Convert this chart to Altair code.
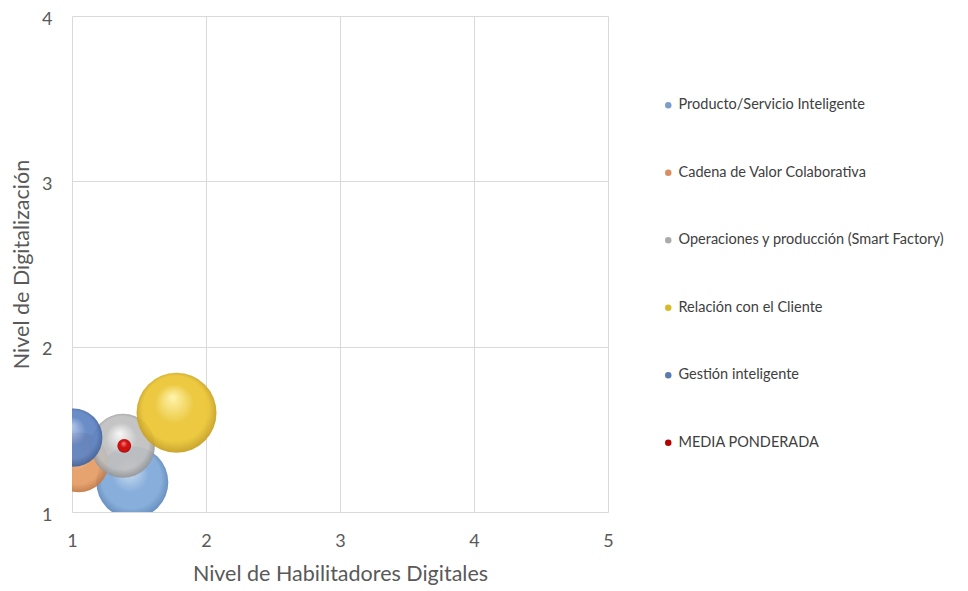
import altair as alt
import pandas as pd

series = ["Producto/Servicio Inteligente", "Cadena de Valor Colaborativa",
          "Operaciones y producción (Smart Factory)", "Relación con el Cliente",
          "Gestión inteligente", "MEDIA PONDERADA"]
x_vals = [1.45, 1.05, 1.38, 1.78, 1.01, 1.39]
y_vals = [1.18, 1.30, 1.40, 1.60, 1.45, 1.40]
size_vals = [81, 56, 64, 100, 53, 3]

legend_colors = ["#7c9fc9", "#d98e62", "#ababab", "#d6bc2c", "#5a7ab3", "#b50000"]
grad_light = ["#d2e2f4", "#fbd6b8", "#f7f7f7", "#fff4a8", "#b4c8ec", "#ff8080"]
grad_base = ["#7ea8d8", "#e49a62", "#bfbfbf", "#eac430", "#5d82c2", "#d00000"]
grad_dark = ["#4d79ad", "#b46a36", "#858585", "#b68f18", "#34558d", "#7a0000"]

df = pd.DataFrame({"serie": series, "x": x_vals, "y": y_vals, "size": size_vals})

FONT = "Lato"
xs = alt.Scale(domain=[1, 5], nice=False, zero=False)
ys = alt.Scale(domain=[1, 4], nice=False, zero=False)
ss = alt.Scale(type="linear", domain=[0, 100], range=[0, 6400], zero=True)

base = alt.Chart(df)

legend_layer = base.mark_circle(opacity=0, clip=True).encode(
    x=alt.X("x:Q", scale=xs, title="Nivel de Habilitadores Digitales",
            axis=alt.Axis(values=[1, 2, 3, 4, 5], format="d")),
    y=alt.Y("y:Q", scale=ys, title="Nivel de Digitalización",
            axis=alt.Axis(values=[1, 2, 3, 4], format="d")),
    size=alt.Size("size:Q", scale=ss, legend=None),
    color=alt.Color("serie:N", scale=alt.Scale(domain=series, range=legend_colors),
                    legend=alt.Legend(title=None, orient="none", legendX=589, legendY=82,
                                      symbolType="circle", symbolSize=42, symbolOpacity=1,
                                      symbolStrokeWidth=0,
                                      labelFont=FONT, labelFontSize=14.5, labelColor="#404040",
                                      rowPadding=52.5, labelOffset=3, labelLimit=400)),
)

layers = [legend_layer]
for i, s in enumerate(series):
    grad = alt.RadialGradient(
        gradient="radial",
        stops=[alt.GradientStop(color=grad_light[i], offset=0),
               alt.GradientStop(color=grad_base[i], offset=0.45),
               alt.GradientStop(color=grad_base[i], offset=0.75),
               alt.GradientStop(color=grad_dark[i], offset=1)],
        x1=0.45, y1=0.3, r1=0, x2=0.5, y2=0.5, r2=0.55)
    layers.append(
        base.transform_filter(alt.datum.serie == s).mark_circle(
            fill=grad, opacity=0.92, stroke=None, clip=True).encode(
            x=alt.X("x:Q", scale=xs),
            y=alt.Y("y:Q", scale=ys),
            size=alt.Size("size:Q", scale=ss, legend=None),
        )
    )

chart = alt.layer(*layers).properties(
    width=536, height=496,
    autosize=alt.AutoSizeParams(type="none"),
    padding={"left": 64, "top": 8, "right": 352, "bottom": 74},
).configure_view(stroke=None).configure_axis(
    grid=True, gridColor="#d9d9d9", gridWidth=1, domain=False, ticks=False,
    labelFlush=False, labelOverlap=False,
    labelFont=FONT, labelFontSize=18, labelColor="#595959",
    titleFont=FONT, titleFontSize=21.5, titleColor="#595959", titleFontWeight="normal",
).configure_axisX(labelPadding=20, titlePadding=13).configure_axisY(
    labelPadding=20, titlePadding=8, labelOffset=3)

chart.save("out.html", embed_options={"renderer": "svg", "actions": False})
